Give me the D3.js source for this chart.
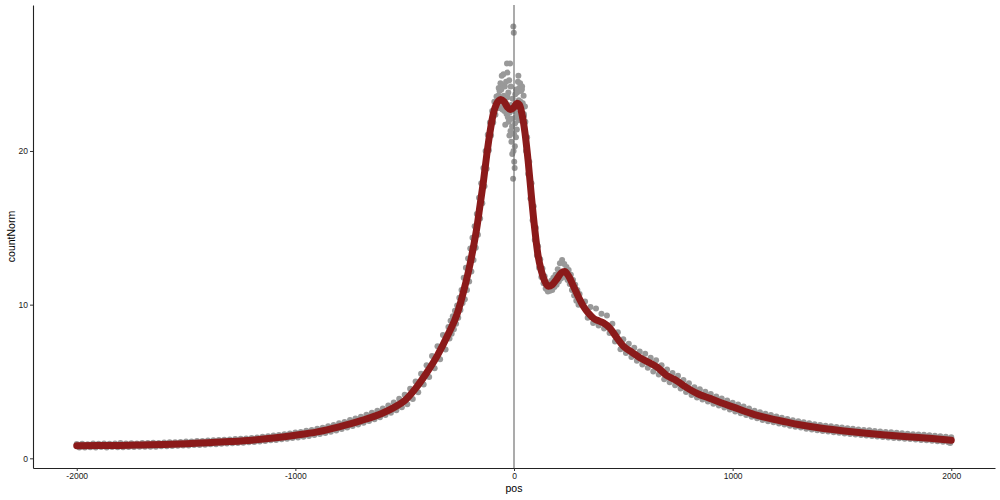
<!DOCTYPE html>
<html>
<head>
<meta charset="utf-8">
<script src="https://cdn.jsdelivr.net/npm/d3@7"></script>
<style>
  html, body { margin: 0; padding: 0; background: #fff; }
  svg { display: block; }
  text { font-family: "Liberation Sans", Arial, Helvetica, sans-serif; }
</style>
</head>
<body>
<svg id="chart" width="1000" height="500"></svg>
<script>
// ---------------- data ----------------
const xTicks = [-2000, -1000, 0, 1000, 2000];
const xTickLabels = ["-2000", "-1000", "0", "1000", "2000"];
const yTicks = [0, 10, 20];
const yTickLabels = ["0", "10", "20"];
const xTitle = "pos";
const yTitle = "countNorm";

// observed points [pos, countNorm]
const pointsLeftTailA = [
  [-2000,0.93],[-1975,0.95],[-1950,0.92],[-1925,0.96],[-1900,0.94],[-1875,0.97],[-1850,0.95],[-1825,0.96],
  [-1800,0.99],[-1775,0.96],[-1750,0.98],[-1725,0.97],[-1700,1.00],[-1675,0.99],[-1650,1.02],[-1625,1.00],
  [-1600,1.03],[-1575,1.04],[-1550,1.05],[-1525,1.07],[-1500,1.09],[-1475,1.10],[-1450,1.12],[-1425,1.13],
  [-1400,1.16],[-1375,1.17],[-1350,1.19],[-1325,1.21],[-1300,1.23],[-1275,1.25],[-1250,1.28],[-1225,1.29],
  [-1200,1.33],[-1175,1.35],[-1150,1.40],[-1125,1.43],[-1100,1.48],[-1075,1.51],[-1050,1.57],[-1025,1.61],
  [-1000,1.68],[-975,1.72],[-950,1.79],[-925,1.85],[-900,1.92],[-875,1.99],[-850,2.08],[-825,2.17],
  [-800,2.28],[-775,2.37],[-750,2.49],[-725,2.59],[-700,2.71],[-675,2.83],[-650,2.96],[-625,3.10],
  [-600,3.25],[-575,3.44],[-550,3.64],[-525,3.88],[-500,4.14],[-475,4.52],[-450,5.00],[-425,5.50],
  [-400,6.05],[-375,6.66],[-350,7.30],[-325,8.02]
];
const pointsLeftTailB = [
  [-1988,0.71],[-1963,0.70],[-1938,0.72],[-1913,0.70],[-1888,0.73],[-1863,0.71],[-1838,0.73],[-1813,0.72],
  [-1788,0.72],[-1763,0.74],[-1738,0.73],[-1713,0.75],[-1688,0.75],[-1663,0.76],[-1638,0.76],[-1613,0.78],
  [-1588,0.78],[-1563,0.80],[-1538,0.81],[-1513,0.83],[-1488,0.84],[-1463,0.86],[-1438,0.87],[-1413,0.89],
  [-1388,0.91],[-1363,0.92],[-1338,0.94],[-1313,0.96],[-1288,0.98],[-1263,1.00],[-1238,1.02],[-1213,1.04],
  [-1188,1.07],[-1163,1.10],[-1138,1.13],[-1113,1.17],[-1088,1.20],[-1063,1.24],[-1038,1.28],[-1013,1.33],
  [-988,1.36],[-963,1.41],[-938,1.46],[-913,1.52],[-888,1.58],[-863,1.65],[-838,1.73],[-813,1.81],
  [-788,1.90],[-763,2.00],[-738,2.10],[-713,2.20],[-688,2.31],[-663,2.43],[-638,2.55],[-613,2.68],
  [-588,2.82],[-563,2.97],[-538,3.12],[-513,3.32],[-488,3.52],[-463,3.86],[-438,4.30],[-413,4.80],
  [-388,5.30],[-363,5.86],[-338,6.45],[-313,7.08]
];
const pointsLeftRise = [
  [-300,8.55],[-295,7.80],[-290,8.95],[-285,8.10],[-280,9.25],[-275,8.40],[-270,9.60],[-265,8.75],
  [-260,9.95],[-255,9.15],[-250,10.45],[-245,9.65],[-240,10.95],[-235,10.10],[-230,11.75],[-225,10.35],
  [-220,12.40],[-215,10.95],[-210,13.00],[-205,11.50],[-200,13.65],[-195,12.15],[-190,14.35],[-185,12.90],
  [-180,15.10],[-175,13.70],[-170,15.90],[-165,14.55],[-160,16.95],[-155,15.60],[-150,17.90],[-145,16.60],
  [-140,18.90],[-135,17.70],[-130,20.00],[-125,18.85],[-120,21.05],[-115,20.05],[-110,21.85],[-105,21.00],
  [-100,22.60],[-95,21.85],[-90,23.20],[-85,22.35],[-80,23.55],[-75,22.80]
];
const pointsCenter = [
  [-72,23.6],[-70,24.1],[-68,23.4],[-66,23.9],[-64,23.2],[-62,24.4],[-60,23.5],[-58,24.0],
  [-56,24.9],[-54,23.3],[-52,24.3],[-50,22.9],[-48,25.0],[-46,23.6],[-44,22.6],[-42,24.2],
  [-40,21.7],[-38,23.1],[-36,24.5],[-34,22.4],[-32,25.7],[-30,25.1],[-28,22.2],[-26,23.8],
  [-24,21.9],[-22,24.6],[-20,22.5],[-18,25.7],[-16,21.3],[-14,23.0],[-12,20.6],[-10,22.1],
  [-8,19.8],[-6,23.4],[-4,18.2],[-3,28.1],[-2,20.0],[-1,27.7],[0,21.1],[1,19.3],
  [2,22.6],[3,18.9],[4,20.3],[6,23.7],[8,22.2],[10,24.0],[12,22.9],[14,23.8],
  [16,22.4],[18,24.5],[20,24.9],[22,23.3],[24,24.1],[26,22.8],[28,24.4],[30,23.2],
  [32,23.9],[34,22.7],[36,24.0],[38,23.0],[40,23.1],[42,21.9],[44,23.6],[46,22.3],
  [48,21.8],[50,22.9],
  [-65,22.8],[-53,22.7],[-41,23.0],[-29,23.5],[-21,21.0],[-15,24.2],[-9,21.6],[-5,22.9],
  [5,21.8],[9,20.9],[13,21.4],[17,23.1],[23,22.0],[31,22.3],[37,24.2],[45,22.4]
];
const pointsRightFall = [
  [52,21.9],[55,20.0],[60,20.9],[65,18.5],[70,19.3],[75,16.9],[80,17.9],[85,15.5],
  [90,16.4],[95,14.2],[100,15.0],[105,13.2],[110,13.8],[115,12.4],[120,12.95],[125,11.8],
  [130,12.35],[135,11.4],[140,11.85],[145,11.05],[150,11.0],[155,10.85],[160,11.05],[165,10.9],
  [170,11.55],[175,10.95],[180,11.75],[185,11.15],[190,11.95],[195,11.3],[200,12.3],[205,11.5],
  [210,12.7],[215,11.7],[220,12.9],[225,11.85],[230,12.65],[235,11.8],[240,12.45],[245,11.6],
  [250,12.25],[255,11.35],[260,11.95],[265,10.95],[270,11.6],[275,10.6],[280,11.3],[285,10.25],
  [290,10.95],[295,10.0],[300,10.7]
];
const pointsRightTailA = [
  [325,10.2],[350,9.85],[375,9.75],[400,9.4],[425,9.3],[450,8.75],[475,8.2],[500,7.75],
  [525,7.45],[550,7.2],[575,6.95],[600,6.8],[625,6.55],[650,6.38],[675,6.05],[700,5.78],
  [725,5.55],[750,5.37],[775,5.1],[800,4.88],[825,4.62],[850,4.5],[875,4.33],[900,4.18],
  [925,4.03],[950,3.9],[975,3.76],[1000,3.62],[1025,3.5],[1050,3.37],[1075,3.24],[1100,3.1],
  [1125,3.0],[1150,2.9],[1175,2.82],[1200,2.72],[1225,2.64],[1250,2.56],[1275,2.48],[1300,2.41],
  [1325,2.34],[1350,2.28],[1375,2.22],[1400,2.17],[1425,2.12],[1450,2.08],[1475,2.03],[1500,2.0],
  [1525,1.96],[1550,1.92],[1575,1.88],[1600,1.85],[1625,1.82],[1650,1.78],[1675,1.75],[1700,1.72],
  [1725,1.69],[1750,1.66],[1775,1.63],[1800,1.6],[1825,1.57],[1850,1.55],[1875,1.53],[1900,1.5],
  [1925,1.47],[1950,1.44],[1975,1.41],[2000,1.37]
];
const pointsRightTailB = [
  [337,9.15],[362,8.8],[387,8.65],[412,8.45],[437,8.15],[462,7.6],[487,7.1],[512,6.85],
  [537,6.6],[562,6.35],[587,6.1],[612,5.9],[637,5.65],[662,5.45],[687,5.15],[712,4.95],
  [737,4.75],[762,4.55],[787,4.32],[812,4.12],[837,3.95],[862,3.82],[887,3.7],[912,3.55],
  [937,3.43],[962,3.3],[987,3.18],[1012,3.05],[1037,2.94],[1062,2.82],[1087,2.7],[1112,2.6],
  [1137,2.5],[1162,2.42],[1187,2.34],[1212,2.27],[1237,2.2],[1262,2.12],[1287,2.06],[1312,2.0],
  [1337,1.93],[1362,1.87],[1387,1.82],[1412,1.78],[1437,1.74],[1462,1.7],[1487,1.66],[1512,1.62],
  [1537,1.58],[1562,1.55],[1587,1.51],[1612,1.48],[1637,1.45],[1662,1.42],[1687,1.39],[1712,1.36],
  [1737,1.33],[1762,1.3],[1787,1.28],[1812,1.25],[1837,1.22],[1862,1.2],[1887,1.17],[1912,1.14],
  [1937,1.11],[1962,1.08],[1987,1.05],[1995,1.0]
];

// smoothed trend [pos, countNorm]
const smoothCurve = [
  [-2000,0.82],[-1900,0.83],[-1800,0.84],[-1700,0.87],[-1600,0.90],[-1500,0.95],[-1400,1.02],
  [-1300,1.09],[-1200,1.18],[-1100,1.32],[-1000,1.50],[-900,1.72],[-800,2.05],[-700,2.45],
  [-600,2.95],[-550,3.30],[-500,3.75],[-450,4.55],[-400,5.55],[-350,6.70],[-300,8.10],
  [-260,9.40],[-230,10.90],[-200,12.70],[-185,13.80],[-170,15.00],[-155,16.50],[-140,18.00],
  [-125,19.70],[-110,21.20],[-95,22.40],[-80,23.05],[-60,23.35],[-45,23.20],[-30,22.85],
  [-15,22.70],[0,22.85],[15,23.10],[25,23.00],[35,22.50],[50,21.20],[65,19.30],[80,17.00],
  [95,14.90],[110,13.20],[125,12.20],[140,11.55],[157,11.20],[175,11.30],[195,11.65],
  [215,12.05],[232,12.15],[250,11.85],[272,11.20],[295,10.50],[318,9.88],[340,9.45],
  [365,9.10],[390,8.93],[410,8.80],[440,8.45],[470,7.85],[500,7.30],[540,6.90],[576,6.55],
  [615,6.25],[653,5.95],[698,5.40],[744,5.05],[790,4.60],[840,4.20],[897,3.90],[950,3.60],
  [1000,3.35],[1100,2.85],[1200,2.50],[1300,2.20],[1400,1.97],[1500,1.80],[1600,1.65],
  [1700,1.52],[1800,1.40],[1900,1.30],[2000,1.18]
];

const allPoints = [].concat(pointsLeftTailA, pointsLeftTailB, pointsLeftRise, pointsCenter,
  pointsRightFall, pointsRightTailA, pointsRightTailB);

// ---------------- drawing ----------------
const svg = d3.select("#chart");
const x = d3.scaleLinear().domain([-2200, 2200]).range([33, 995]);
const y = d3.scaleLinear().domain([-0.63, 29.5]).range([468, 5]);

// points
svg.append("g")
  .selectAll("circle")
  .data(allPoints)
  .join("circle")
  .attr("cx", d => x(d[0]))
  .attr("cy", d => y(d[1]))
  .attr("r", 3)
  .attr("fill", "#999999");

// vertical reference line at 0
svg.append("line")
  .attr("x1", x(0)).attr("x2", x(0))
  .attr("y1", y.range()[1]).attr("y2", y.range()[0])
  .attr("stroke", "#666666")
  .attr("stroke-width", 1.1);

// smooth line
const line = d3.line()
  .x(d => x(d[0]))
  .y(d => y(d[1]))
  .curve(d3.curveMonotoneX);
svg.append("path")
  .datum(smoothCurve)
  .attr("d", line)
  .attr("fill", "none")
  .attr("stroke", "#8B1A1A")
  .attr("stroke-width", 7)
  .attr("stroke-linecap", "round")
  .attr("stroke-linejoin", "round");

// axes
const xAxis = d3.axisBottom(x)
  .tickValues(xTicks)
  .tickFormat((d, i) => xTickLabels[i])
  .tickSize(3).tickSizeOuter(0).tickPadding(2);
const gx = svg.append("g").attr("transform", "translate(0,468)").call(xAxis);

const yAxis = d3.axisLeft(y)
  .tickValues(yTicks)
  .tickFormat((d, i) => yTickLabels[i])
  .tickSize(3).tickSizeOuter(0).tickPadding(2);
const gy = svg.append("g").attr("transform", "translate(33,0)").call(yAxis);

[gx, gy].forEach(g => {
  g.select(".domain").attr("stroke", "#222").attr("stroke-width", 1.1);
  g.selectAll(".tick line").attr("stroke", "#333");
  g.selectAll(".tick text")
    .attr("fill", "#1a1a1a")
    .style("font-size", "8.5px")
    .style("font-family", "'Liberation Sans', Arial, sans-serif");
});

// axis titles
svg.append("text")
  .attr("x", (x.range()[0] + x.range()[1]) / 2)
  .attr("y", 492)
  .attr("text-anchor", "middle")
  .style("font-size", "10.5px")
  .attr("fill", "#000")
  .text(xTitle);

svg.append("text")
  .attr("transform", `translate(15,${(y.range()[0] + y.range()[1]) / 2}) rotate(-90)`)
  .attr("text-anchor", "middle")
  .style("font-size", "10.5px")
  .attr("fill", "#000")
  .text(yTitle);
</script>
</body>
</html>
